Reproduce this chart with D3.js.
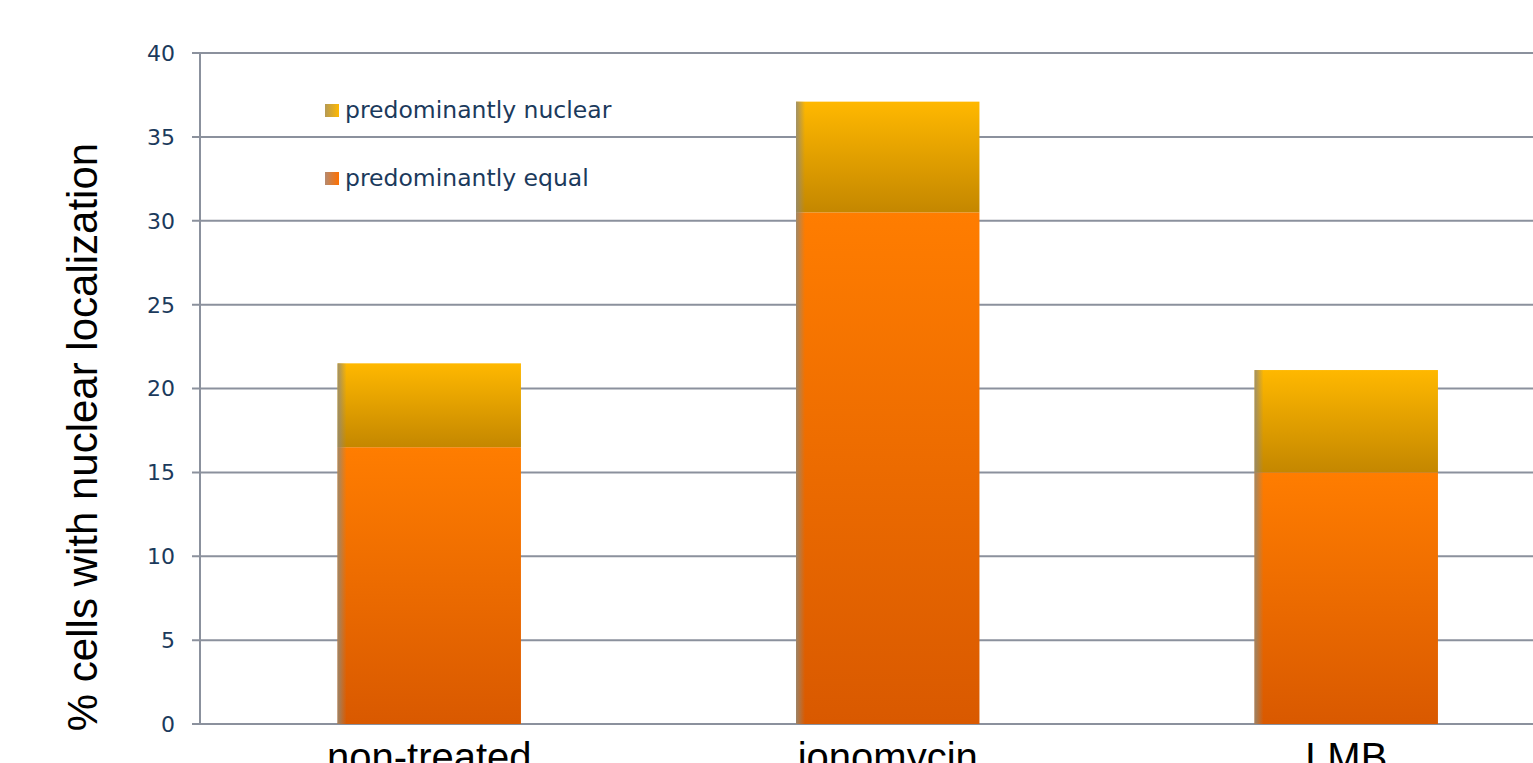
<!DOCTYPE html>
<html>
<head>
<meta charset="utf-8">
<script src="https://cdn.jsdelivr.net/npm/d3@7"></script>
<style>
  body { margin: 0; background: #fff; }
</style>
</head>
<body>
<div id="chart"></div>
<script>
// data
var categories = ["non-treated", "ionomycin", "LMB"];
var equalValues = [16.5, 30.5, 15.0];
var nuclearValues = [5.0, 6.6, 6.1];
var seriesNames = ["predominantly nuclear", "predominantly equal"];
var yTicks = [0, 5, 10, 15, 20, 25, 30, 35, 40];

var W = 1533, H = 763;
var margin = {top: 53, left: 200, bottom: 39};
var plotH = H - margin.top - margin.bottom;
var bandW = 458.5;

var svg = d3.select("#chart").append("svg")
  .attr("width", W).attr("height", H);

var defs = svg.append("defs");
function vgrad(id, top, bottom) {
  var g = defs.append("linearGradient").attr("id", id)
    .attr("x1", 0).attr("y1", 0).attr("x2", 0).attr("y2", 1);
  g.append("stop").attr("offset", "0%").attr("stop-color", top);
  g.append("stop").attr("offset", "100%").attr("stop-color", bottom);
}
vgrad("gEqual", "#ff7d00", "#d95900");
vgrad("gNuc", "#ffb800", "#c48700");
var lg = defs.append("linearGradient").attr("id", "gEdge")
  .attr("x1", 0).attr("y1", 0).attr("x2", 1).attr("y2", 0);
lg.append("stop").attr("offset", "0%").attr("stop-color", "#8f8a7a").attr("stop-opacity", 0.85);
lg.append("stop").attr("offset", "100%").attr("stop-color", "#8f8a7a").attr("stop-opacity", 0);
var lgL = defs.append("linearGradient").attr("id", "gLegNuc")
  .attr("x1", 0).attr("y1", 0).attr("x2", 1).attr("y2", 0);
lgL.append("stop").attr("offset", "0%").attr("stop-color", "#b59a55");
lgL.append("stop").attr("offset", "100%").attr("stop-color", "#ffb800");
var lgE = defs.append("linearGradient").attr("id", "gLegEq")
  .attr("x1", 0).attr("y1", 0).attr("x2", 1).attr("y2", 0);
lgE.append("stop").attr("offset", "0%").attr("stop-color", "#b58a70");
lgE.append("stop").attr("offset", "100%").attr("stop-color", "#ff7000");

var y = d3.scaleLinear().domain([0, 40]).range([margin.top + plotH, margin.top]);
var x = d3.scaleBand().domain(categories)
  .range([margin.left, margin.left + bandW * categories.length])
  .paddingInner(0.6).paddingOuter(0.3);

// gridlines
svg.append("g").selectAll("line").data(yTicks).enter().append("line")
  .attr("x1", margin.left - 8).attr("x2", W)
  .attr("y1", function(d){ return y(d); }).attr("y2", function(d){ return y(d); })
  .attr("stroke", "#8b919d").attr("stroke-width", 2);

// y axis line
svg.append("line")
  .attr("x1", margin.left).attr("x2", margin.left)
  .attr("y1", y(40)).attr("y2", y(0))
  .attr("stroke", "#8b919d").attr("stroke-width", 2);

// tick labels
svg.append("g").selectAll("text").data(yTicks).enter().append("text")
  .attr("x", margin.left - 25).attr("y", function(d){ return y(d); })
  .attr("dy", "0.36em").attr("text-anchor", "end")
  .attr("font-family", "DejaVu Sans, Verdana, sans-serif").attr("font-size", 22)
  .attr("fill", "#1b3a5c")
  .text(function(d){ return d; });

// bars
var bars = svg.append("g").selectAll("g").data(categories).enter().append("g");
bars.append("rect")
  .attr("x", function(d){ return x(d); })
  .attr("width", x.bandwidth())
  .attr("y", function(d, i){ return y(equalValues[i]); })
  .attr("height", function(d, i){ return y(0) - y(equalValues[i]); })
  .attr("fill", "url(#gEqual)");
bars.append("rect")
  .attr("x", function(d){ return x(d); })
  .attr("width", x.bandwidth())
  .attr("y", function(d, i){ return y(equalValues[i] + nuclearValues[i]); })
  .attr("height", function(d, i){ return y(equalValues[i]) - y(equalValues[i] + nuclearValues[i]); })
  .attr("fill", "url(#gNuc)");
// left edge shading
bars.append("rect")
  .attr("x", function(d){ return x(d); })
  .attr("width", 9)
  .attr("y", function(d, i){ return y(equalValues[i] + nuclearValues[i]); })
  .attr("height", function(d, i){ return y(0) - y(equalValues[i] + nuclearValues[i]); })
  .attr("fill", "url(#gEdge)");

// x labels (cut off at the bottom edge, as in the original)
svg.append("g").selectAll("text").data(categories).enter().append("text")
  .attr("x", function(d){ return x(d) + x.bandwidth() / 2; })
  .attr("y", 771)
  .attr("text-anchor", "middle")
  .attr("font-family", "Liberation Sans, Arial, sans-serif").attr("font-size", 40)
  .attr("fill", "#000")
  .text(function(d){ return d; });

// y title
svg.append("text")
  .attr("transform", "translate(97,437) rotate(-90)")
  .attr("text-anchor", "middle")
  .attr("font-family", "Liberation Sans, Arial, sans-serif").attr("font-size", 42)
  .attr("fill", "#000")
  .text("% cells with nuclear localization");

// legend
var legend = svg.append("g").selectAll("g").data(seriesNames).enter().append("g")
  .attr("transform", function(d, i){ return "translate(325," + (110 + i * 68) + ")"; });
legend.append("rect")
  .attr("x", 0).attr("y", -6).attr("width", 14).attr("height", 13)
  .attr("fill", function(d, i){ return i === 0 ? "url(#gLegNuc)" : "url(#gLegEq)"; });
legend.append("text")
  .attr("x", 20).attr("dy", "0.35em")
  .attr("font-family", "DejaVu Sans, Verdana, sans-serif").attr("font-size", 23.5)
  .attr("fill", "#1b3a5c")
  .text(function(d){ return d; });
</script>
</body>
</html>
